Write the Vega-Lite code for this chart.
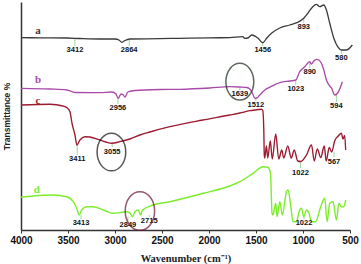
{
  "$schema": "https://vega.github.io/schema/vega-lite/v6.json",
  "width": 329,
  "height": 228,
  "autosize": "none",
  "padding": {"left": 21, "top": 2, "right": 11, "bottom": 34},
  "background": "white",
  "config": {"view": {"stroke": null}},
  "datasets": {
    "spectra": [
      {"s":"a","w":4000,"t":192.3},{"s":"a","w":3798,"t":192.2},{"s":"a","w":3511,"t":192},{"s":"a","w":3373,"t":191.5},{"s":"a","w":3160,"t":191},{"s":"a","w":3001,"t":191},{"s":"a","w":2958,"t":190},{"s":"a","w":2926,"t":187.7},{"s":"a","w":2894,"t":189.5},{"s":"a","w":2842,"t":191},{"s":"a","w":2523,"t":191.3},{"s":"a","w":2310,"t":191.7},{"s":"a","w":1991,"t":192.2},{"s":"a","w":1779,"t":192.3},{"s":"a","w":1641,"t":193.3},{"s":"a","w":1619,"t":191.7},{"s":"a","w":1587,"t":192},{"s":"a","w":1545,"t":195},{"s":"a","w":1481,"t":192},{"s":"a","w":1428,"t":187.3},{"s":"a","w":1385,"t":192},{"s":"a","w":1332,"t":197},{"s":"a","w":1247,"t":202},{"s":"a","w":1141,"t":205},{"s":"a","w":1066,"t":207.3},{"s":"a","w":992,"t":211.7},{"s":"a","w":949,"t":216.7},{"s":"a","w":896,"t":223.3},{"s":"a","w":857,"t":225.7},{"s":"a","w":822,"t":223.3},{"s":"a","w":779,"t":225},{"s":"a","w":751,"t":220},{"s":"a","w":716,"t":207},{"s":"a","w":673,"t":192},{"s":"a","w":631,"t":183.3},{"s":"a","w":592,"t":180},{"s":"a","w":539,"t":180},{"s":"a","w":475,"t":185},
      {"s":"b","w":4000,"t":141.7},{"s":"b","w":3692,"t":141},{"s":"b","w":3511,"t":140},{"s":"b","w":3426,"t":137.5},{"s":"b","w":3160,"t":137.3},{"s":"b","w":3033,"t":138},{"s":"b","w":2990,"t":136},{"s":"b","w":2966,"t":131.7},{"s":"b","w":2937,"t":136},{"s":"b","w":2916,"t":135.5},{"s":"b","w":2894,"t":133},{"s":"b","w":2863,"t":138},{"s":"b","w":2788,"t":139.5},{"s":"b","w":2523,"t":140.5},{"s":"b","w":2310,"t":140.7},{"s":"b","w":1991,"t":142},{"s":"b","w":1779,"t":143.3},{"s":"b","w":1672,"t":143},{"s":"b","w":1598,"t":142.5},{"s":"b","w":1566,"t":141},{"s":"b","w":1534,"t":136},{"s":"b","w":1513,"t":131.7},{"s":"b","w":1491,"t":132},{"s":"b","w":1460,"t":135},{"s":"b","w":1406,"t":140},{"s":"b","w":1354,"t":142.7},{"s":"b","w":1247,"t":147.3},{"s":"b","w":1141,"t":149},{"s":"b","w":1077,"t":150},{"s":"b","w":1035,"t":158.3},{"s":"b","w":981,"t":163.3},{"s":"b","w":928,"t":168.3},{"s":"b","w":910,"t":166},{"s":"b","w":885,"t":169},{"s":"b","w":857,"t":170.7},{"s":"b","w":832,"t":170},{"s":"b","w":804,"t":166.7},{"s":"b","w":779,"t":160},{"s":"b","w":751,"t":150},{"s":"b","w":716,"t":144},{"s":"b","w":695,"t":141.7},{"s":"b","w":663,"t":135},{"s":"b","w":631,"t":137},{"s":"b","w":581,"t":148.3},
      {"s":"c","w":4000,"t":125},{"s":"c","w":3692,"t":125.7},{"s":"c","w":3554,"t":124},{"s":"c","w":3511,"t":122.3},{"s":"c","w":3479,"t":118.3},{"s":"c","w":3458,"t":107},{"s":"c","w":3426,"t":95},{"s":"c","w":3405,"t":85},{"s":"c","w":3373,"t":90},{"s":"c","w":3320,"t":93.3},{"s":"c","w":3267,"t":93},{"s":"c","w":3160,"t":90},{"s":"c","w":3097,"t":88},{"s":"c","w":3033,"t":86.7},{"s":"c","w":2948,"t":88.3},{"s":"c","w":2842,"t":91},{"s":"c","w":2735,"t":95},{"s":"c","w":2629,"t":98},{"s":"c","w":2416,"t":103.3},{"s":"c","w":2066,"t":110},{"s":"c","w":1779,"t":115},{"s":"c","w":1672,"t":117},{"s":"c","w":1566,"t":119.3},{"s":"c","w":1513,"t":120},{"s":"c","w":1442,"t":120.7},{"s":"c","w":1428,"t":119.5},{"s":"c","w":1417,"t":100},{"s":"c","w":1412,"t":75},{"s":"c","w":1407,"t":72},{"s":"c","w":1389,"t":84},{"s":"c","w":1375,"t":72},{"s":"c","w":1348,"t":89},{"s":"c","w":1327,"t":71},{"s":"c","w":1290,"t":96},{"s":"c","w":1258,"t":71},{"s":"c","w":1226,"t":80},{"s":"c","w":1205,"t":72},{"s":"c","w":1162,"t":84},{"s":"c","w":1125,"t":72},{"s":"c","w":1093,"t":80},{"s":"c","w":1056,"t":69},{"s":"c","w":1024,"t":68.5},{"s":"c","w":963,"t":75},{"s":"c","w":910,"t":85},{"s":"c","w":880,"t":69},{"s":"c","w":848,"t":81},{"s":"c","w":811,"t":72.5},{"s":"c","w":774,"t":84},{"s":"c","w":753,"t":69},{"s":"c","w":721,"t":82.5},{"s":"c","w":695,"t":78},{"s":"c","w":663,"t":89},{"s":"c","w":625,"t":94},{"s":"c","w":592,"t":96.7},{"s":"c","w":575,"t":91},{"s":"c","w":557,"t":94.5},{"s":"c","w":546,"t":80},
      {"s":"d","w":4000,"t":32.7},{"s":"d","w":3869,"t":34},{"s":"d","w":3657,"t":35},{"s":"d","w":3514,"t":33.3},{"s":"d","w":3444,"t":28.3},{"s":"d","w":3408,"t":21.7},{"s":"d","w":3380,"t":15},{"s":"d","w":3355,"t":20},{"s":"d","w":3302,"t":23.3},{"s":"d","w":3232,"t":23.3},{"s":"d","w":3125,"t":20},{"s":"d","w":3019,"t":16.7},{"s":"d","w":2948,"t":17.3},{"s":"d","w":2877,"t":18.3},{"s":"d","w":2842,"t":17},{"s":"d","w":2813,"t":13.3},{"s":"d","w":2788,"t":18.3},{"s":"d","w":2753,"t":20},{"s":"d","w":2728,"t":15},{"s":"d","w":2707,"t":20},{"s":"d","w":2594,"t":25},{"s":"d","w":2416,"t":28.3},{"s":"d","w":2063,"t":36.7},{"s":"d","w":1779,"t":44},{"s":"d","w":1672,"t":48.3},{"s":"d","w":1531,"t":56.7},{"s":"d","w":1425,"t":63.3},{"s":"d","w":1372,"t":62.7},{"s":"d","w":1346,"t":56.7},{"s":"d","w":1329,"t":16.7},{"s":"d","w":1319,"t":15},{"s":"d","w":1290,"t":26.7},{"s":"d","w":1276,"t":13.3},{"s":"d","w":1247,"t":28.3},{"s":"d","w":1219,"t":15},{"s":"d","w":1176,"t":38.3},{"s":"d","w":1159,"t":40},{"s":"d","w":1134,"t":26.7},{"s":"d","w":1106,"t":8.3},{"s":"d","w":1070,"t":8.3},{"s":"d","w":1042,"t":18.3},{"s":"d","w":1017,"t":21.7},{"s":"d","w":992,"t":13.3},{"s":"d","w":963,"t":20},{"s":"d","w":936,"t":16.7},{"s":"d","w":910,"t":8.3},{"s":"d","w":865,"t":8.3},{"s":"d","w":822,"t":20},{"s":"d","w":793,"t":28.3},{"s":"d","w":769,"t":31.7},{"s":"d","w":744,"t":8.3},{"s":"d","w":716,"t":26.7},{"s":"d","w":680,"t":28.3},{"s":"d","w":645,"t":10},{"s":"d","w":617,"t":26.7},{"s":"d","w":592,"t":23.3},{"s":"d","w":567,"t":23.3},{"s":"d","w":546,"t":30}
    ],
    "peaks": [
      {"label":"3412","w":3426,"t":180,"t1":191,"t2":184},
      {"label":"2864","w":2849,"t":180,"t1":191,"t2":184},
      {"label":"1456","w":1428,"t":180,"t1":187,"t2":184},
      {"label":"893","w":992,"t":203.3,"t1":211.7,"t2":207},
      {"label":"580","w":592,"t":171.7,"t1":180,"t2":176},
      {"label":"2956","w":2969,"t":122,"t1":131.7,"t2":126},
      {"label":"1639","w":1672,"t":135.7,"t1":143,"t2":140},
      {"label":"1512","w":1502,"t":125,"t1":131.7,"t2":129},
      {"label":"1023","w":1077,"t":140.7,"t1":150,"t2":145},
      {"label":"890","w":928,"t":158.3,"t1":168,"t2":162},
      {"label":"594","w":645,"t":124,"t1":135,"t2":128},
      {"label":"3411","w":3402,"t":70.7,"t1":85,"t2":75},
      {"label":"3055","w":3030,"t":78.3,"t1":86.7,"t2":83},
      {"label":"1022","w":1027,"t":57.3,"t1":68.5,"t2":62},
      {"label":"567","w":670,"t":68.3,"t1":78,"t2":73},
      {"label":"3413","w":3362,"t":6.7,"t1":15,"t2":11},
      {"label":"2849","w":2863,"t":5,"t1":13.3,"t2":9},
      {"label":"2715","w":2636,"t":9,"t1":15,"t2":13},
      {"label":"1022","w":989,"t":6.7,"t1":13.3,"t2":11}
    ],
    "letters": [
      {"s":"a","w":3819,"t":199},
      {"s":"b","w":3819,"t":150},
      {"s":"c","w":3819,"t":129.3},
      {"s":"d","w":3833,"t":40}
    ],
    "circles": [
      {"id":"e1","w":1672,"t":148.3},
      {"id":"e2","w":3038,"t":78},
      {"id":"e3","w":2735,"t":19}
    ]
  },
  "layer": [
    {
      "data": {"name": "peaks"},
      "mark": {"type": "rule", "color": "#9fd89f", "strokeWidth": 1},
      "encoding": {
        "x": {"field": "w", "type": "quantitative", "scale": {"domain": [4000, 500], "nice": false, "zero": false},
          "axis": {"values": [4000,3750,3500,3250,3000,2750,2500,2250,2000,1750,1500,1250,1000,750,500],
            "format": "d", "labelExpr": "datum.value % 500 == 0 ? datum.label : ''",
            "title": "Wavenumber (cm⁻¹)", "titleFont": "Liberation Serif", "titleFontSize": 10.5, "titleFontWeight": "bold",
            "titleColor": "#222", "titleBaseline": "middle", "titleY": 28,
            "labelFont": "Liberation Sans", "labelFontSize": 10, "labelFontWeight": "bold", "labelColor": "#111",
            "labelPadding": 2, "tickSize": 3, "tickColor": "#333", "domainColor": "#333", "domainWidth": 1.5, "grid": false, "labelFlush": false, "labelOverlap": false}},
        "y": {"field": "t1", "type": "quantitative", "scale": {"domain": [0, 228], "nice": false, "zero": false},
          "axis": {"title": "Transmittance %", "labels": false, "ticks": false, "grid": false, "domainColor": "#333", "domainWidth": 1.5,
            "titleFont": "Liberation Sans", "titleFontSize": 8.5, "titleFontWeight": "bold", "titleColor": "#222",
            "titleBaseline": "middle", "titleX": -15, "titleY": 114}},
        "y2": {"field": "t2"}
      }
    },
    {
      "data": {"name": "spectra"},
      "mark": {"type": "line", "interpolate": "monotone"},
      "encoding": {
        "x": {"field": "w", "type": "quantitative"},
        "y": {"field": "t", "type": "quantitative"},
        "color": {"field": "s", "type": "nominal", "legend": null,
          "scale": {"domain": ["a","b","c","d"], "range": ["#3a3a3a", "#a94aa9", "#9b1b30", "#7cec2c"]}},
        "strokeWidth": {"field": "s", "type": "nominal", "legend": null,
          "scale": {"domain": ["a","b","c","d"], "range": [1.3, 1.4, 1.6, 2]}}
      }
    },
    {
      "data": {"name": "peaks"},
      "mark": {"type": "text", "font": "Liberation Sans", "fontSize": 7.5, "fontWeight": "bold", "color": "#111", "baseline": "middle", "align": "center"},
      "encoding": {
        "x": {"field": "w", "type": "quantitative"},
        "y": {"field": "t", "type": "quantitative"},
        "text": {"field": "label"}
      }
    },
    {
      "data": {"name": "letters"},
      "mark": {"type": "text", "font": "Liberation Serif", "fontSize": 11, "fontWeight": "bold", "baseline": "middle", "align": "center"},
      "encoding": {
        "x": {"field": "w", "type": "quantitative"},
        "y": {"field": "t", "type": "quantitative"},
        "text": {"field": "s"},
        "color": {"field": "s", "type": "nominal", "legend": null,
          "scale": {"domain": ["a","b","c","d"], "range": ["#3a3a3a", "#a94aa9", "#9b1b30", "#7cec2c"]}}
      }
    },
    {
      "data": {"name": "circles"},
      "mark": {"type": "point", "filled": false, "strokeWidth": 1.5,
        "shape": "M 0.76 0 C 0.76 0.5523 0.4197 1 0 1 C -0.4197 1 -0.76 0.5523 -0.76 0 C -0.76 -0.5523 -0.4197 -1 0 -1 C 0.4197 -1 0.76 -0.5523 0.76 0 Z"},
      "encoding": {
        "x": {"field": "w", "type": "quantitative"},
        "y": {"field": "t", "type": "quantitative"},
        "size": {"field": "id", "type": "nominal", "legend": null, "scale": {"domain": ["e1","e2","e3"], "range": [1347, 1498, 1739]}},
        "stroke": {"field": "id", "type": "nominal", "legend": null, "scale": {"domain": ["e1","e2","e3"], "range": ["#1b2b1b", "#111111", "#6b1530"]}}
      }
    }
  ],
  "resolve": {"scale": {"color": "independent"}}
}
